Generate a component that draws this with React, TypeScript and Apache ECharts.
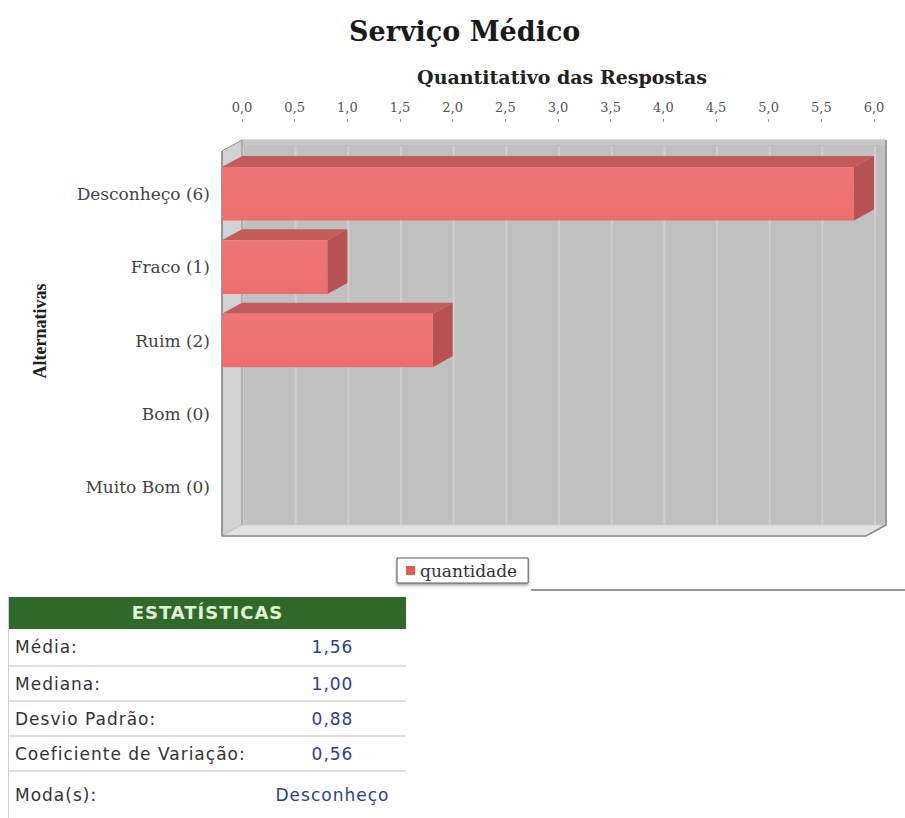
import React, { useEffect, useRef } from "react";
import * as echarts from "echarts";

const categories = ["Desconheço (6)", "Fraco (1)", "Ruim (2)", "Bom (0)", "Muito Bom (0)"];
const values = [6, 1, 2, 0, 0];
const xTicks = [0, 0.5, 1, 1.5, 2, 2.5, 3, 3.5, 4, 4.5, 5, 5.5, 6];
const statLabels = ["Média:", "Mediana:", "Desvio Padrão:", "Coeficiente de Variação:", "Moda(s):"];
const statValues = ["1,56", "1,00", "0,88", "0,56", "Desconheço"];

const DX = 20;
const DY = 11;
const SERIF = "'DejaVu Serif', Georgia, serif";
const SANS = "'DejaVu Sans', Verdana, sans-serif";

export default function App() {
  const ref = useRef<HTMLDivElement>(null);

  useEffect(() => {
    document.body.style.margin = "0";
    const chart = echarts.init(ref.current!, null, { renderer: "svg" });
    const option: any = {
      animation: false,
      backgroundColor: "#ffffff",
      title: {
        text: "Serviço Médico",
        left: 344,
        top: 13,
        textStyle: { fontFamily: SERIF, fontWeight: "bold", fontSize: 27, color: "#1a1a1a" },
      },
      legend: {
        data: ["quantidade"],
        left: 397,
        top: 558,
        icon: "rect",
        itemWidth: 9,
        itemHeight: 9,
        itemGap: 5,
        padding: [4, 11, 4, 9],
        borderColor: "#555",
        borderWidth: 1,
        backgroundColor: "#fff",
        shadowBlur: 3,
        shadowColor: "rgba(0,0,0,0.35)",
        shadowOffsetY: 2,
        textStyle: { fontFamily: SERIF, fontSize: 17, color: "#333" },
      },
      grid: { left: 242, right: 31, top: 157, bottom: 294 },
      xAxis: {
        type: "value",
        position: "top",
        min: 0,
        max: 6,
        interval: 0.5,
        offset: 35,
        name: "Quantitativo das Respostas",
        nameLocation: "middle",
        nameGap: 36,
        nameTextStyle: { fontFamily: SERIF, fontWeight: "bold", fontSize: 19, color: "#222", padding: [0, 0, 0, 8] },
        axisLine: { show: false },
        axisTick: { show: true, length: 3, lineStyle: { color: "#999" } },
        splitLine: { show: false },
        axisLabel: {
          margin: 8,
          fontFamily: SERIF,
          fontSize: 13,
          color: "#555",
          formatter: (v: number) => v.toFixed(1).replace(".", ","),
        },
      },
      yAxis: {
        type: "category",
        data: categories,
        inverse: true,
        axisLine: { show: false },
        axisTick: { show: false },
        splitLine: { show: false },
        axisLabel: { margin: 32, fontFamily: SERIF, fontSize: 17, color: "#444" },
      },
      graphic: [
        { type: "line", shape: { x1: 531, y1: 590, x2: 905, y2: 590 }, style: { stroke: "#999", lineWidth: 2 } },
        {
          type: "text",
          x: 40,
          y: 331,
          rotation: Math.PI / 2,
          style: {
            text: "Alternativas",
            fontFamily: "'Liberation Serif', serif",
            fontWeight: "bold",
            fontSize: 18,
            fill: "#222",
            align: "center",
            verticalAlign: "middle",
          },
        },
      ],
      series: [
        {
          type: "custom",
          name: "box",
          z: 1,
          silent: true,
          data: [[0, 0]],
          renderItem: (params: any, api: any) => {
            const cs = params.coordSys;
            const gx = cs.x, gy = cs.y, gw = cs.width, gh = cs.height;
            const top = gy - 17;
            const bot = gy + gh + 1;
            const right = gx + gw + 12;
            const children: any[] = [];
            children.push({
              type: "rect",
              shape: { x: gx, y: top, width: right - gx, height: bot - top },
              style: { fill: "#c0c0c0", stroke: "#b4b4b4", lineWidth: 1 },
            });
            xTicks.forEach((t) => {
              const x = api.coord([t, 0])[0];
              children.push({
                type: "line",
                shape: { x1: x + 1, y1: top + 6, x2: x + 1, y2: bot },
                style: { stroke: "#cfcfcf", lineWidth: 2 },
              });
            });
            children.push({
              type: "rect",
              shape: { x: gx, y: top, width: right - gx, height: 5 },
              style: { fill: "#c8c8c8" },
            });
            children.push({
              type: "polygon",
              shape: { points: [[gx - DX, top + DY], [gx, top], [gx, bot], [gx - DX, bot + DY]] },
              style: { fill: "#d2d2d2", stroke: "#8a8a8a", lineWidth: 1 },
            });
            children.push({
              type: "polygon",
              shape: { points: [[gx, bot], [right, bot], [right - DX, bot + DY], [gx - DX, bot + DY]] },
              style: { fill: "#e2e2e2", stroke: "#d0d0d0", lineWidth: 1 },
            });
            children.push({
              type: "polyline",
              shape: { points: [[gx - DX, top + DY], [gx - DX, bot + DY], [right - DX, bot + DY], [right, bot], [right, top]] },
              style: { stroke: "#8a8a8a", lineWidth: 1.5, fill: "none" },
            });
            return { type: "group", children };
          },
        },
        {
          type: "custom",
          name: "quantidade",
          z: 2,
          itemStyle: { color: "#e85858" },
          data: values.map((v, i) => [v, i]),
          renderItem: (params: any, api: any) => {
            const v = api.value(0);
            const idx = api.value(1);
            if (!v) return { type: "group", children: [] };
            const start = api.coord([0, idx]);
            const end = api.coord([v, idx]);
            const band = api.size([0, 1])[1];
            const h = band * 0.73;
            const x0 = start[0] - DX;
            const x1 = end[0] - DX;
            const yT = start[1] - h / 2;
            const yB = start[1] + h / 2;
            return {
              type: "group",
              children: [
                {
                  type: "polygon",
                  shape: { points: [[x0, yT], [x1, yT], [x1 + DX, yT - DY], [x0 + DX, yT - DY]] },
                  style: { fill: "#c25b5b" },
                },
                {
                  type: "polygon",
                  shape: { points: [[x1, yT], [x1 + DX, yT - DY], [x1 + DX, yB - DY], [x1, yB]] },
                  style: { fill: "#b85252" },
                },
                {
                  type: "rect",
                  shape: { x: x0, y: yT, width: x1 - x0, height: yB - yT },
                  style: {
                    fill: new echarts.graphic.LinearGradient(0, 0, 0, 1, [
                      { offset: 0, color: "#ee7676" },
                      { offset: 1, color: "#ec6e6e" },
                    ]),
                  },
                },
              ],
            };
          },
        },
      ],
    };
    chart.setOption(option);
    return () => chart.dispose();
  }, []);

  const rowHeights = [38, 35, 35, 35, 46];

  return (
    <div style={{ position: "relative", width: 905, height: 818, overflow: "hidden", background: "#fff" }}>
      <div ref={ref} style={{ position: "absolute", left: 0, top: 0, width: 905, height: 818 }} />
      <div
        style={{
          position: "absolute",
          left: 8,
          top: 597,
          width: 397,
          fontFamily: SANS,
          borderLeft: "1px solid #cfcfcf",
        }}
      >
        <div
          style={{
            height: 32,
            lineHeight: "32px",
            background: "#2f6a2b",
            color: "#e2f4d6",
            fontWeight: "bold",
            fontSize: 18,
            textAlign: "center",
            letterSpacing: 1,
          }}
        >
          ESTATÍSTICAS
        </div>
        {statLabels.map((lab, i) => (
          <div
            key={lab}
            style={{
              display: "flex",
              height: rowHeights[i],
              alignItems: "center",
              borderBottom: i < statLabels.length - 1 ? "2px solid #e0e0e0" : "none",
              boxSizing: "border-box",
              fontSize: 17,
              letterSpacing: 1,
            }}
          >
            <div style={{ width: 250, paddingLeft: 6, color: "#333", boxSizing: "border-box" }}>{lab}</div>
            <div style={{ width: 147, textAlign: "center", color: "#2b3f94" }}>{statValues[i]}</div>
          </div>
        ))}
      </div>
    </div>
  );
}
